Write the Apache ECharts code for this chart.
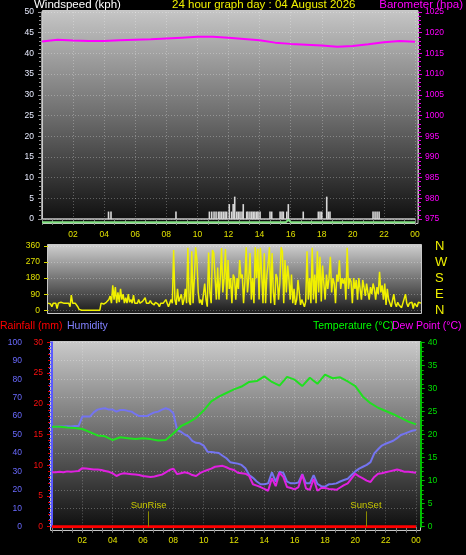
<!DOCTYPE html>
<html><head><meta charset="utf-8">
<script src="https://cdn.jsdelivr.net/npm/echarts@6/dist/echarts.min.js"></script>
<style>html,body{margin:0;padding:0;background:#000;}#c{width:466px;height:555px;}</style>
</head><body><div id="c"></div>
<script>
// ---------- DATA ----------
const baroTimes  = [0,1,2,3,4,5,6,7,8,9,10,11,12,13,14,15,16,17,18,19,20,21,22,23,24];
const baroValues = [1017.9,1018.3,1018.1,1018.0,1018.0,1018.2,1018.3,1018.4,1018.6,1018.8,1019.0,1019.0,1018.8,1018.5,1018.2,1017.6,1017.3,1017.1,1016.9,1016.6,1016.8,1017.2,1017.7,1018.0,1017.8];

const gustTimes  = [4.28,4.44,8.62,10.77,10.92,11.07,11.2,11.35,11.45,11.56,11.67,11.78,11.88,12.05,12.2,12.3,12.4,12.53,12.63,12.74,12.87,12.95,13.17,13.25,13.38,13.5,13.6,13.7,13.82,13.9,14.03,14.67,14.78,15.32,15.44,15.53,15.75,15.85,16.81,17.78,17.89,18.0,18.32,18.42,18.53,21.3,21.43,21.56,21.69];
const gustValues = [1.8,1.8,1.8,1.8,1.8,1.8,1.8,1.8,1.8,1.8,1.8,1.8,1.8,3.6,1.8,3.6,5.4,1.8,1.8,1.8,1.8,3.6,1.8,1.8,1.8,1.8,1.8,1.8,1.8,1.8,1.8,1.8,1.8,1.8,1.8,1.8,1.8,3.6,1.8,1.8,1.8,1.8,5.4,1.8,1.8,1.8,1.8,1.8,1.8];

const avgWindTimes  = [0,15.7,15.85,16.0,24];
const avgWindValues = [0,0,0.6,0,0];

// wind direction, one value every 5 minutes
const dirValues = [
 40,40,35,20,40,45,40,10,40,40,45,40,
 40,30,40,45,40,20,85,40,35,40,40,20,
 5,0,0,0,0,0,0,0,0,0,0,0,
 0,0,0,0,0,40,40,35,40,45,40,60,
 80,40,140,60,130,40,100,45,120,60,90,40,
 70,40,90,45,60,40,85,40,50,40,60,40,
 40,50,40,70,40,45,40,55,40,40,30,45,
 40,35,20,40,50,40,30,60,40,20,40,60,
 40,338,60,30,120,50,40,90,30,60,120,40,
 350,50,30,330,40,180,353,282,100,40,60,30,
 40,150,60,20,323,100,40,338,320,180,60,240,
 60,180,348,100,180,343,60,282,120,180,40,200,
 180,60,180,120,282,180,200,40,160,353,100,180,
 320,60,180,40,353,180,345,60,350,200,40,320,
 40,200,263,353,40,320,100,30,203,180,60,150,
 353,330,40,282,100,250,180,60,200,40,120,30,
 60,170,170,30,60,40,20,50,330,60,180,40,
 350,60,200,40,330,100,300,50,250,150,60,200,
 120,180,300,100,180,150,40,200,160,280,120,180,
 150,180,60,350,120,180,160,40,180,120,170,60,
 180,120,60,170,130,80,150,100,60,130,90,150,
 120,60,130,90,215,100,140,60,150,30,120,60,
 40,20,30,90,40,20,45,30,40,15,40,30,
 90,40,20,40,30,45,10,40,35,20,45,40,
 40];
const dirLetters = {0:'N',90:'E',180:'S',270:'W',360:'N'};

// temperature every 30 minutes
const tempValues = [21.7,21.7,21.5,21.4,21.2,20.5,19.8,19.6,18.8,19.4,19.2,19.0,19.2,19.0,18.7,18.8,20.2,21.8,22.6,23.6,25.2,27.2,28.2,29.0,29.8,30.4,31.4,31.6,32.6,31.4,30.6,32.5,31.9,30.5,32.3,31.0,33.0,32.2,32.4,31.5,30.5,28.2,26.8,25.8,25.1,24.4,23.6,22.8,22.2];
// humidity every 15 minutes
const humValues = [54.2,54.2,54.4,54.4,54.5,54.4,54.6,54.6,59.7,59.8,59.7,62,63.5,64,64.2,63.5,63.5,62.4,63.3,63.3,62.8,62.4,61,60,60,60,61,62,62.4,63.5,64.2,63.5,61.5,52.4,51.5,50,49,46.5,45.5,45.2,44,40.7,40.5,40.2,40,38.5,37.1,35,34.6,34.2,33.5,31.7,28,26.5,24.5,23,23,23.5,29.5,24.4,29.8,29.2,24.4,23.5,23.5,24,28.5,23.5,23.5,28,23.2,22,21.7,23,23.2,23.5,24.5,25.3,26,28,30,31.5,32.5,33.5,35,39.8,42,44,45,45.8,46.6,48,49.7,50.5,51.3,52,52.4];
// dew point every 15 minutes
const dewValues = [11.8,11.8,11.9,11.8,12.0,11.9,12.0,12.1,12.7,12.6,12.5,12.4,12.4,12.3,12.1,11.9,11.6,11.0,11.4,11.6,11.5,11.4,11.3,11.2,11.0,10.9,10.8,10.9,11.1,11.3,11.8,12.3,12.6,11.4,11.6,11.8,11.6,11.2,11.0,11.6,12.0,12.3,12.6,13.0,13.1,13.2,12.9,12.5,12.3,11.7,11.6,11.5,11.0,9.2,8.9,8.6,8.2,7.8,10.5,8.8,11.7,10.8,8.6,8.4,8.1,8.6,11.3,8.3,8.0,10.4,7.8,8.4,8.4,8.2,8.1,8.0,8.5,9.0,9.4,10.5,11.5,10.9,10.5,10.0,9.7,10.8,11.5,11.6,11.8,12.0,12.2,12.4,12.2,11.9,11.9,11.8,11.7];
// rainfall hourly
const rainValues = [0,0,0,0,0,0,0,0,0,0,0,0,0,0,0,0,0,0,0,0,0,0,0,0,0];

const sunTimes  = [6.37, 20.70];
const sunLabels = ['SunRise','SunSet'];

// ---------- BUILD ----------
const zip = (t, v) => v.map((y, i) => [t[i], y]);
const stepPairs = (step, v) => v.map((y, i) => [i * step, y]);
const FONT = 'Liberation Sans';
const hourFmt = v => v === 0 ? '' : String(v % 24).padStart(2, '0');
const plain = v => String(v);
const grid = 'rgba(255,255,255,0.28)';
const G = echarts.graphic;
const vgrad = (stops) => new G.LinearGradient(0, 0, 0, 1, stops.map((c, i) => ({offset: i / (stops.length - 1), color: c})));

const chart = echarts.init(document.getElementById('c'), null, {renderer: 'canvas'});

const bgRect = (x, y, w, h, stops) => ({
  type: 'rect', z: -100, silent: true,
  shape: {x, y, width: w, height: h},
  style: {fill: vgrad(stops), stroke: '#c8c8c8', lineWidth: 1}
});
const txt = (x, y, text, color, size, align) => ({
  type: 'text', x, y, z: 100, silent: true,
  style: {text, fill: color, font: size + 'px "' + FONT + '"', textAlign: align || 'left', textVerticalAlign: 'middle'}
});

const yBase = (extra) => Object.assign({
  type: 'value', splitLine: {show: false},
  axisLine: {show: false}, axisTick: {show: false}
}, extra);

const option = {
  backgroundColor: '#000',
  animation: false,
  graphic: [
    bgRect(42.5, 10.5, 375.5, 213, ['#c6c6c6', '#6c6c6c', '#0c0c0c']),
    bgRect(47.5, 244.5, 374, 69, ['#d0d0d0', '#747474', '#181818']),
    bgRect(50.5, 341.5, 370, 189, ['#cacaca', '#6a6a6a', '#0c0c0c']),
    txt(34, 4.5, 'Windspeed (kph)', '#ffffff', 11.5),
    txt(172, 4.5, '24 hour graph day : 04 August 2026', '#f0f000', 11.5),
    txt(463, 4.5, 'Barometer (hpa)', '#ff00ff', 11.5, 'right'),
    txt(0, 326.5, 'Rainfall (mm)', '#ff0000', 10.5),
    txt(67, 326.5, 'Humidity', '#8080ff', 10.5),
    txt(313, 326.5, 'Temperature (\u00B0C)', '#00ff00', 10.5),
    txt(392, 326.5, 'Dew Point (\u00B0C)', '#ff00ff', 10.5)
  ],
  grid: [
    {left: 42, right: 51, top: 12, bottom: 336, outerBoundsMode: 'none'},
    {left: 48, right: 45, top: 246, bottom: 244.7, outerBoundsMode: 'none'},
    {left: 52, right: 50, top: 342.3, bottom: 28.3, outerBoundsMode: 'none'}
  ],
  xAxis: [
    {gridIndex: 0, type: 'value', min: 0, max: 24, interval: 2,
     axisLine: {lineStyle: {color: '#c8c8c8', width: 1.5}},
     axisTick: {show: true, length: 6, lineStyle: {color: '#808080'}},
     minorTick: {show: true, splitNumber: 3, length: 6, lineStyle: {color: '#808080'}},
     axisLabel: {formatter: hourFmt, color: '#e0e000', fontSize: 8.5, fontFamily: FONT, margin: 11},
     splitLine: {show: true, lineStyle: {color: grid, type: [1, 2]}}},
    {gridIndex: 1, type: 'value', min: 0, max: 24, show: false},
    {gridIndex: 2, type: 'value', min: 0, max: 24, interval: 2,
     axisLine: {show: false},
     axisTick: {show: true, length: 6, lineStyle: {color: '#808080'}},
     minorTick: {show: true, splitNumber: 3, length: 6, lineStyle: {color: '#808080'}},
     axisLabel: {formatter: hourFmt, color: '#e0e000', fontSize: 8.5, fontFamily: FONT, margin: 9},
     splitLine: {show: true, lineStyle: {color: grid, type: [1, 2]}}}
  ],
  yAxis: [
    yBase({gridIndex: 0, position: 'left', min: 0, max: 50, interval: 5,
      axisLine: {show: true, lineStyle: {color: '#c8c8c8', width: 1.5}},
      axisTick: {show: true, length: 4, lineStyle: {color: '#909090'}},
      minorTick: {show: true, splitNumber: 5, length: 3, lineStyle: {color: '#909090'}},
      axisLabel: {color: '#e8ecff', fontSize: 8.5, fontFamily: FONT, margin: 8, formatter: plain},
      splitLine: {show: true, lineStyle: {color: grid, type: [1, 2]}}}),
    yBase({gridIndex: 0, position: 'right', offset: 3, min: 975, max: 1025, interval: 5,
      axisLine: {show: true, lineStyle: {color: '#c0c0c0', width: 1}},
      axisTick: {show: true, length: 4, lineStyle: {color: '#e000e0'}},
      minorTick: {show: true, splitNumber: 5, length: 3, lineStyle: {color: '#e000e0'}},
      axisLabel: {color: '#ff00ff', fontSize: 8.5, fontFamily: FONT, margin: 7, formatter: plain}}),
    yBase({gridIndex: 0, show: false, min: 0.77, max: 50.77}),
    yBase({gridIndex: 1, position: 'left', offset: 1, min: 0, max: 360, interval: 90,
      axisTick: {show: true, length: 4, lineStyle: {color: '#d8d800'}},
      axisLabel: {color: '#e0e000', fontSize: 8.5, fontFamily: FONT, margin: 7, formatter: plain},
      splitLine: {show: true, lineStyle: {color: grid, type: [1, 2]}}}),
    yBase({gridIndex: 1, position: 'right', min: 0, max: 360, interval: 90,
      axisLabel: {color: '#f0f000', fontSize: 13, fontFamily: FONT, margin: 14, formatter: v => dirLetters[v]}}),
    yBase({gridIndex: 2, position: 'left', offset: 22, min: 0, max: 100, interval: 10,
      axisLine: {show: true, lineStyle: {color: '#5a5aff', width: 2}},
      axisTick: {show: true, length: 4, lineStyle: {color: '#5a5aff'}},
      minorTick: {show: true, splitNumber: 5, length: 3, lineStyle: {color: '#5a5aff'}},
      axisLabel: {color: '#6a6aff', fontSize: 8.5, fontFamily: FONT, margin: 8, formatter: plain},
      splitLine: {show: true, lineStyle: {color: grid, type: [1, 2]}}}),
    yBase({gridIndex: 2, position: 'left', offset: 2, min: 0, max: 30, interval: 5,
      axisTick: {show: true, length: 3, lineStyle: {color: '#e00000'}},
      minorTick: {show: true, splitNumber: 5, length: 2, lineStyle: {color: '#e00000'}},
      axisLabel: {color: '#ff1010', fontSize: 8.5, fontFamily: FONT, margin: 7, formatter: plain}}),
    yBase({gridIndex: 2, position: 'right', offset: 4.7, min: 0, max: 40, interval: 5,
      axisLine: {show: true, lineStyle: {color: '#00c000', width: 2}},
      axisTick: {show: true, length: 4, lineStyle: {color: '#00c000'}},
      minorTick: {show: true, splitNumber: 5, length: 3, lineStyle: {color: '#00c000'}},
      axisLabel: {color: '#00e000', fontSize: 8.5, fontFamily: FONT, margin: 7, formatter: plain}})
  ],
  series: [
    {name: 'Gust', type: 'bar', xAxisIndex: 0, yAxisIndex: 0, barWidth: 1.6,
     itemStyle: {color: '#d8d8d8'}, data: zip(gustTimes, gustValues)},
    {name: 'Avg', type: 'line', xAxisIndex: 0, yAxisIndex: 2, clip: false, showSymbol: false,
     lineStyle: {color: '#80e080', width: 2}, data: zip(avgWindTimes, avgWindValues)},
    {name: 'Barometer', type: 'line', xAxisIndex: 0, yAxisIndex: 1, showSymbol: false,
     lineStyle: {color: '#ff00ff', width: 2}, data: zip(baroTimes, baroValues)},
    {name: 'Direction', type: 'line', xAxisIndex: 1, yAxisIndex: 3, showSymbol: false,
     lineStyle: {color: '#f0f000', width: 1.5}, data: stepPairs(5 / 60, dirValues)},
    {name: 'Humidity', type: 'line', xAxisIndex: 2, yAxisIndex: 5, showSymbol: false,
     lineStyle: {color: '#7474f0', width: 2}, data: stepPairs(0.25, humValues)},
    {name: 'Temperature', type: 'line', xAxisIndex: 2, yAxisIndex: 7, showSymbol: false,
     lineStyle: {color: '#20e020', width: 2}, data: stepPairs(0.5, tempValues)},
    {name: 'Dew Point', type: 'line', xAxisIndex: 2, yAxisIndex: 7, showSymbol: false,
     lineStyle: {color: '#e020e0', width: 2}, data: stepPairs(0.25, dewValues)},
    {name: 'Rainfall', type: 'line', xAxisIndex: 2, yAxisIndex: 6, showSymbol: false,
     lineStyle: {color: '#ff0000', width: 3}, data: stepPairs(1, rainValues),
     markLine: {silent: true, symbol: ['none', 'none'],
       lineStyle: {color: '#8a8a00', type: 'solid', width: 1},
       label: {show: true, position: 'end', formatter: '{b}', color: '#c8c800', fontSize: 9.5, fontFamily: FONT, distance: 1},
       data: sunTimes.map((t, i) => [{coord: [t, 0], name: sunLabels[i]}, {coord: [t, 2.5]}])}}
  ]
};
chart.setOption(option);
</script></body></html>
